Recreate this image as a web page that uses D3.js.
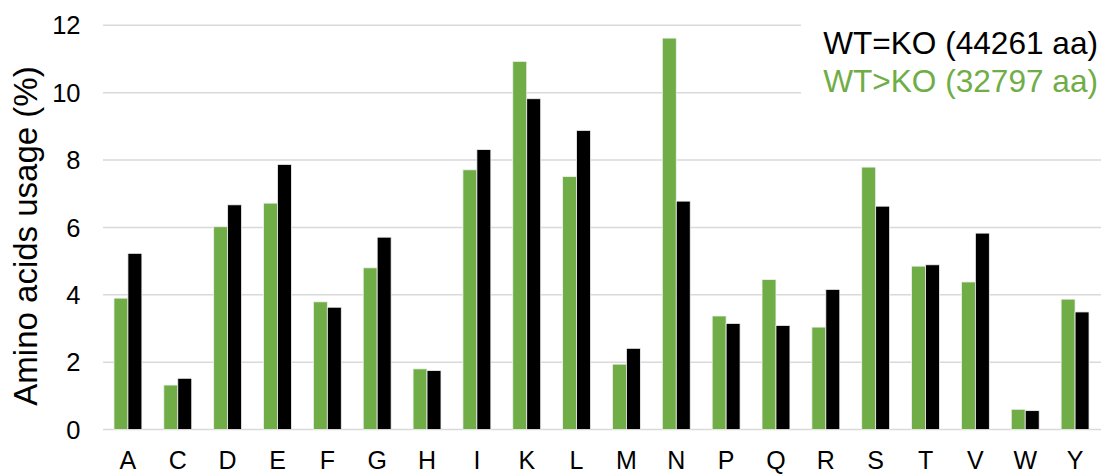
<!DOCTYPE html>
<html>
<head>
<meta charset="utf-8">
<script src="https://cdn.jsdelivr.net/npm/d3@7"></script>
<style>
  html, body { margin: 0; padding: 0; background: #fff; }
  svg { display: block; font-family: "Liberation Sans", Arial, sans-serif; }
</style>
</head>
<body>
<svg id="chart" width="1103" height="476"></svg>
<script>
// Amino acid usage (%) per residue for two protein sets
const aminoAcids = ["A","C","D","E","F","G","H","I","K","L","M","N","P","Q","R","S","T","V","W","Y"];
const wtGreaterKo = [3.90,1.32,6.02,6.72,3.79,4.80,1.80,7.71,10.93,7.51,1.94,11.62,3.37,4.45,3.04,7.79,4.85,4.38,0.60,3.87];
const wtEqualKo   = [5.23,1.52,6.67,7.87,3.63,5.71,1.75,8.31,9.82,8.88,2.41,6.78,3.15,3.09,4.16,6.63,4.89,5.83,0.56,3.49];
const yTicks = [0,2,4,6,8,10,12];
const seriesNames = ["WT>KO (32797 aa)", "WT=KO (44261 aa)"];
const seriesColors = ["#70ad47", "#000000"];

const svg = d3.select("#chart");
const plotLeft = 103, plotRight = 1101, plotTop = 25.3, plotBottom = 429.5;

const x = d3.scaleBand().domain(aminoAcids).range([plotLeft, 1100]).paddingInner(0.44).paddingOuter(0.22);
const xSub = d3.scaleBand().domain([0, 1]).range([0, x.bandwidth()]);
const y = d3.scaleLinear().domain([0, 12]).range([plotBottom, plotTop]);

// horizontal gridlines
svg.append("g").selectAll("line").data(yTicks).join("line")
  .attr("x1", plotLeft).attr("x2", plotRight)
  .attr("y1", d => y(d)).attr("y2", d => y(d))
  .attr("stroke", "#d9d9d9").attr("stroke-width", 1.5);

// y tick labels
svg.append("g").selectAll("text").data(yTicks).join("text")
  .attr("x", 80.5).attr("y", d => y(d)).attr("dy", "0.36em")
  .attr("text-anchor", "end").attr("font-size", 25.5).attr("fill", "#000")
  .text(d => d);

// y axis title
svg.append("text")
  .attr("transform", "translate(37,236) rotate(-90)")
  .attr("text-anchor", "middle").attr("font-size", 33).attr("fill", "#000")
  .text("Amino acids usage (%)");

// bars
const seriesData = [wtGreaterKo, wtEqualKo];
seriesData.forEach((vals, si) => {
  svg.append("g").selectAll("rect").data(aminoAcids).join("rect")
    .attr("x", d => x(d) + xSub(si))
    .attr("width", xSub.bandwidth())
    .attr("y", (d, i) => y(vals[i]))
    .attr("height", (d, i) => y(0) - y(vals[i]))
    .attr("fill", seriesColors[si])
    .attr("stroke", "#f2f2f2").attr("stroke-width", 0.8);
});

// category labels
svg.append("g").selectAll("text").data(aminoAcids).join("text")
  .attr("x", d => x(d) + x.bandwidth() / 2).attr("y", 469)
  .attr("text-anchor", "middle").attr("font-size", 25).attr("fill", "#000")
  .text(d => d);

// legend
svg.append("rect").attr("x", 801).attr("y", 12).attr("width", 302).attr("height", 90).attr("fill", "#fff");
svg.append("text").attr("x", 1098).attr("y", 54).attr("text-anchor", "end")
  .attr("font-size", 31.6).attr("fill", seriesColors[1]).text(seriesNames[1]);
svg.append("text").attr("x", 1098).attr("y", 91.5).attr("text-anchor", "end")
  .attr("font-size", 31.6).attr("fill", seriesColors[0]).text(seriesNames[0]);
</script>
</body>
</html>
